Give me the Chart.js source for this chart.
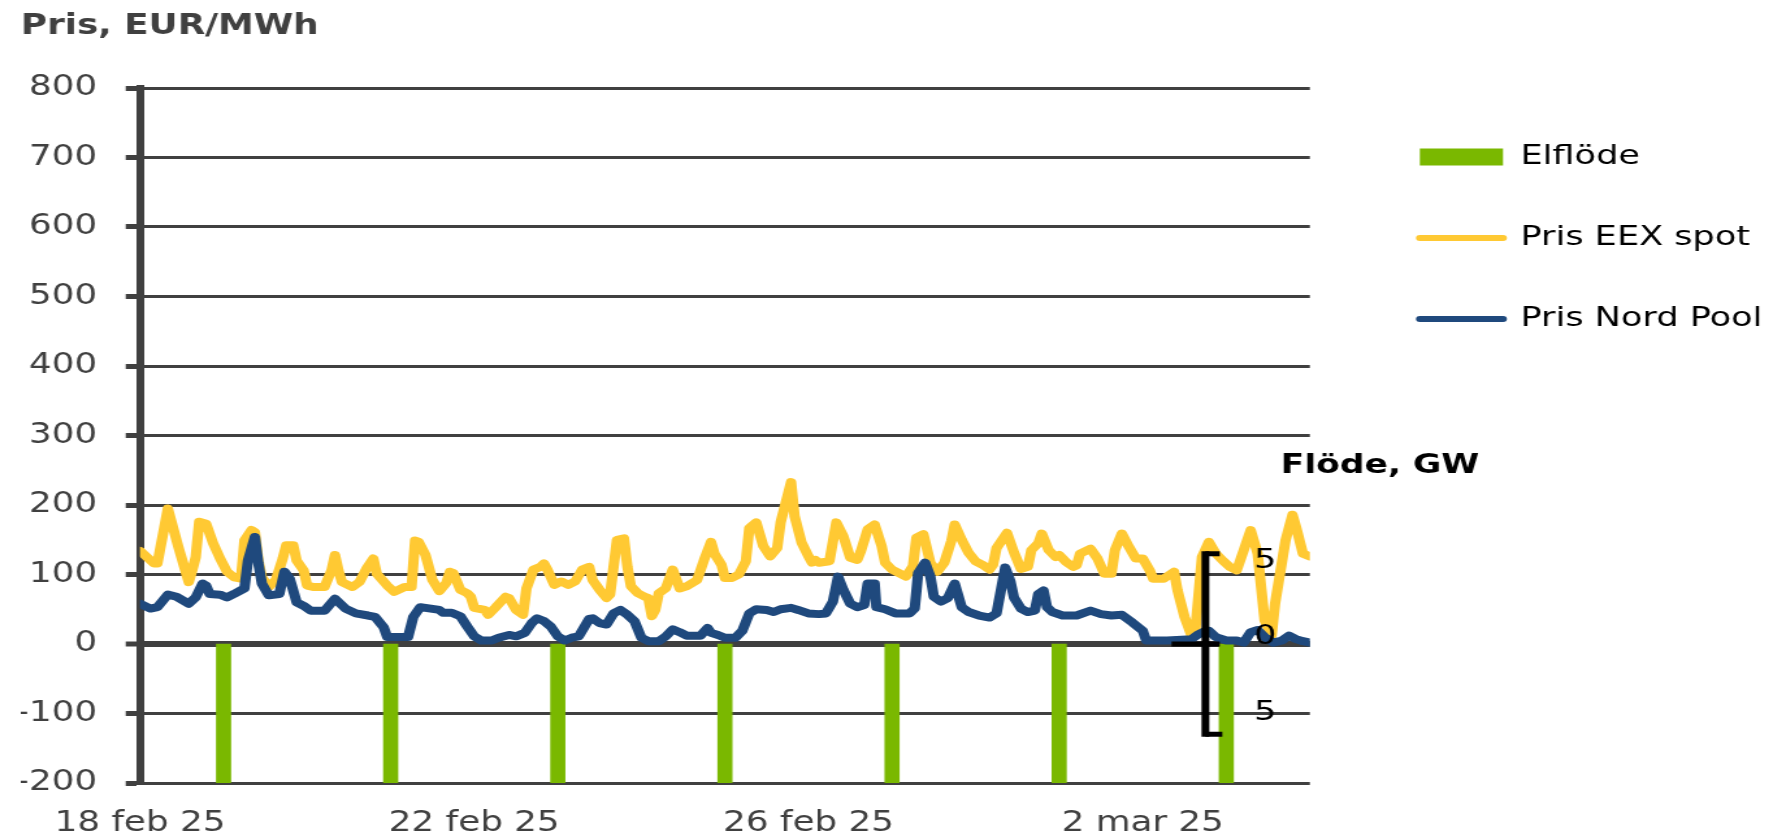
<!DOCTYPE html>
<html>
<head>
<meta charset="utf-8">
<script src="https://cdn.jsdelivr.net/npm/chart.js@4/dist/chart.umd.min.js"></script>
<style>
html, body { margin: 0; padding: 0; background: #fff; overflow: hidden; }
#wrap { width: 1364px; height: 831px; transform: scaleX(1.29985); transform-origin: 0 0; }
canvas { display: block; }
</style>
</head>
<body>
<div id="wrap"><canvas id="c" width="1364" height="831"></canvas></div>
<script>
// ---- data (hours since 18 feb 25 00:00) ----
const tickHours = [0, 96, 192, 288];
const tickLabels = ['18 feb 25', '22 feb 25', '26 feb 25', '2 mar 25'];
const priceTicks = [-200, -100, 0, 100, 200, 300, 400, 500, 600, 700, 800];
const flowTicks = [5, 0, -5];

const flowHours = [24, 72, 120, 168, 216, 264, 312];
const flowValues = [-7.7, -7.7, -7.7, -7.7, -7.7, -7.7, -7.7];

const eexHours = [0,4,5,8,11,13,14,15,16,17,19,21,23,25,27,29,30,32,33,34,35,37,39,41,42,44,45,47,48,50,53,55,56,57,58,61,63,65,67,68,71,73,76,78,79,80,82,84,86,88,89,90,92,94,95,96,99,100,102,105,106,108,110,111,113,115,116,117,119,121,123,125,127,129,130,132,134,135,137,139,140,141,143,145,146,147,148,149,151,153,155,157,160,162,164,165,167,168,170,172,174,175,177,179,181,183,184,187,188,190,192,193,194,195,198,200,202,204,206,207,209,211,213,214,216,218,220,222,223,225,227,229,231,233,234,236,238,240,242,244,245,246,249,251,253,255,256,258,259,261,263,264,266,268,269,270,273,275,277,279,280,282,284,286,288,290,291,294,297,298,300,302,303,305,307,309,311,313,315,317,319,321,323,325,326,329,331,332,334,336];
const eexPrices = [134,116,116,195,140,106,89,106,125,176,173,145,123,104,96,94,149,164,161,120,96,82,92,123,142,142,120,106,84,82,82,106,128,106,89,82,89,108,123,101,84,75,82,82,149,147,128,92,76,88,104,102,78,73,68,52,49,42,52,68,66,49,42,80,107,111,116,107,85,90,85,90,107,111,92,78,66,71,150,152,111,83,73,68,66,40,49,73,80,107,80,83,92,121,147,130,114,95,95,100,119,167,175,141,126,138,175,233,184,146,126,117,121,117,119,175,155,124,121,133,165,172,141,117,107,102,97,112,153,158,117,104,117,148,172,150,131,119,114,107,114,138,160,132,108,111,135,145,159,135,125,128,118,111,113,130,137,123,101,101,135,159,140,123,123,106,94,94,104,77,39,12,14,125,147,130,120,111,106,135,164,130,34,12,58,149,186,169,130,126];

const npHours = [0,3,5,8,10.5,14,16,18,19,20,23,25,27,30,31,33,34,35,37,40,41.5,43,45,47,49,53,56,59,62,65.5,67.5,70,71,77,78.5,80.5,82,86,87,89.5,92,94,96,98,101,103,106,108,110.5,112.5,114,116,118,120,122,124,126,129,130,132,134,136,138,140,142,144,146,149,151,153,155,157,161,163,164,166,168,171,173,175,177,180,182,184,187,189,192,195,197,199,200.5,202,204,206,208,209,211,211.5,214,217,221,222.5,223.5,225.5,227,228,230,232,234,236,238,241,244,246,248.5,250,251,253,255,257,258,259.5,260.5,262,265,269,273,276,279,282,285,288,289,295,302,304,306,307,309,312,315,317,319,321,323,325.5,328,330,332,334,336];
const npPrices = [58,51,53,71,68,58,67,87,84,72,71,67,72,80,120,154,116,87,70,72,104,94,60,55,48,48,65,51,44,41,39,24,10,10,39,53,52,49,45,45,40,25,11,5,5,9,13,11,16,30,37,33,25,11,5,9,11,36,37,30,28,44,49,42,33,9,4,4,11,21,17,12,12,23,16,13,9,9,19,44,50,49,46,50,52,49,44,43,44,61,97,78,58,53,56,87,87,53,50,44,44,51,102,117,97,68,61,66,87,53,46,41,38,44,110,90,67,51,46,48,72,77,53,46,41,41,48,43,41,42,31,19,5,5,7,14,19,19,10,5,5,2,17,20,10,2,5,12,7,4,2];

// ---- chart ----
Chart.defaults.font.family = '"DejaVu Sans", Verdana, sans-serif';
const zip = (xs, ys) => xs.map((x, i) => ({ x: x, y: ys[i] }));

const flodeAxis = {
  id: 'flodeAxis',
  afterDatasetsDraw(chart) {
    const ctx = chart.ctx;
    const x = chart.scales.x, y2 = chart.scales.y2;
    const ax = x.getPixelForValue(306);
    const y0 = y2.getPixelForValue(0);
    const yt = y2.getPixelForValue(Math.max(...flowTicks));
    const yb = y2.getPixelForValue(Math.min(...flowTicks));
    ctx.save();
    ctx.strokeStyle = '#000';
    ctx.lineCap = 'butt';
    ctx.lineWidth = 6;
    ctx.beginPath(); ctx.moveTo(ax, yt - 2.5); ctx.lineTo(ax, yb + 2.5); ctx.stroke();
    ctx.lineWidth = 5;
    ctx.beginPath();
    ctx.moveTo(ax, yt); ctx.lineTo(ax + 11, yt);
    ctx.moveTo(ax, yb); ctx.lineTo(ax + 13, yb);
    ctx.moveTo(ax - 26, y0); ctx.lineTo(ax + 11, y0);
    ctx.stroke();
    ctx.fillStyle = '#000';
    ctx.font = '27px "DejaVu Sans"';
    ctx.textAlign = 'center';
    ctx.textBaseline = 'middle';
    flowTicks.forEach(v => {
      const py = y0 + (y2.getPixelForValue(v) - y0) * 0.84 - 7;
      ctx.fillText(String(Math.abs(v)), ax + 46, py);
    });
    ctx.font = 'bold 26.5px "DejaVu Sans"';
    ctx.textAlign = 'left';
    ctx.fillText('Flöde, GW', ax + 58, yt - 88);
    ctx.restore();
  }
};

const legendPlace = {
  id: 'legendPlace',
  afterLayout(chart) {
    const lg = chart.legend;
    const w = lg.width;
    lg.left = chart.chartArea.right + 30.6;
    lg.right = lg.left + w;
    lg.top = chart.chartArea.top + 1.5;
    lg.bottom = chart.chartArea.bottom;
    lg.height = lg.bottom - lg.top;
  }
};

new Chart(document.getElementById('c'), {
  type: 'line',
  data: {
    datasets: [
      { type: 'line', label: 'Pris Nord Pool', data: zip(npHours, npPrices), yAxisID: 'y',
        borderColor: '#1F497D', backgroundColor: '#1F497D', borderWidth: 8, pointRadius: 0,
        pointHoverRadius: 0, tension: 0, borderJoinStyle: 'round', borderCapStyle: 'round' },
      { type: 'line', label: 'Pris EEX spot', data: zip(eexHours, eexPrices), yAxisID: 'y',
        borderColor: '#FFC933', backgroundColor: '#FFC933', borderWidth: 8, pointRadius: 0,
        pointHoverRadius: 0, tension: 0, borderJoinStyle: 'round', borderCapStyle: 'round' },
      { type: 'bar', label: 'Elflöde', data: zip(flowHours, flowValues), yAxisID: 'y2',
        backgroundColor: '#7AB800', borderWidth: 0, barThickness: 11 }
    ]
  },
  options: {
    responsive: false,
    animation: false,
    events: [],
    layout: { padding: { left: 16, right: 356.3, top: 0, bottom: 0 } },
    plugins: {
      tooltip: { enabled: false },
      title: {
        display: true, text: 'Pris, EUR/MWh', align: 'start', color: '#404040',
        font: { size: 27.5, weight: 'bold' }, padding: { top: 10, bottom: 45 }
      },
      legend: {
        position: 'chartArea', align: 'start', reverse: true,
        labels: {
          usePointStyle: true, pointStyleWidth: 64, boxHeight: 17, padding: 54,
          color: '#000', font: { size: 27 },
          generateLabels: (chart) => Chart.defaults.plugins.legend.labels.generateLabels(chart).map(it => {
            const ds = chart.data.datasets[it.datasetIndex];
            if (ds.type === 'bar') {
              it.pointStyle = 'rect'; it.fillStyle = ds.backgroundColor; it.lineWidth = 0;
            } else {
              it.pointStyle = 'line'; it.strokeStyle = ds.borderColor; it.lineWidth = 6; it.lineCap = 'round';
            }
            return it;
          })
        }
      }
    },
    scales: {
      x: {
        type: 'linear', min: 0, max: 336, offset: false,
        afterBuildTicks: s => { s.ticks = tickHours.map(v => ({ value: v })); },
        ticks: {
          callback: v => tickLabels[tickHours.indexOf(v)],
          font: { size: 27.5 }, color: '#404040', padding: 16, maxRotation: 0, autoSkip: false
        },
        grid: { display: false },
        border: { display: false },
        afterFit: s => { s.height = 48; }
      },
      y: {
        type: 'linear', min: -200, max: 800,
        afterBuildTicks: s => { s.ticks = priceTicks.map(v => ({ value: v })); },
        ticks: { font: { size: 27.5 }, color: '#404040', padding: 22 },
        grid: {
          color: '#404040',
          lineWidth: c => (c.tick && c.tick.value === 0) ? 6 : 3,
          tickLength: 11, tickWidth: 5, tickColor: '#404040'
        },
        border: { color: '#404040', width: 6 },
        afterFit: s => { s.width = 91.7; }
      },
      y2: { type: 'linear', display: false, min: -7.7, max: 30.8 }
    }
  },
  plugins: [flodeAxis, legendPlace]
});
</script>
</body>
</html>
